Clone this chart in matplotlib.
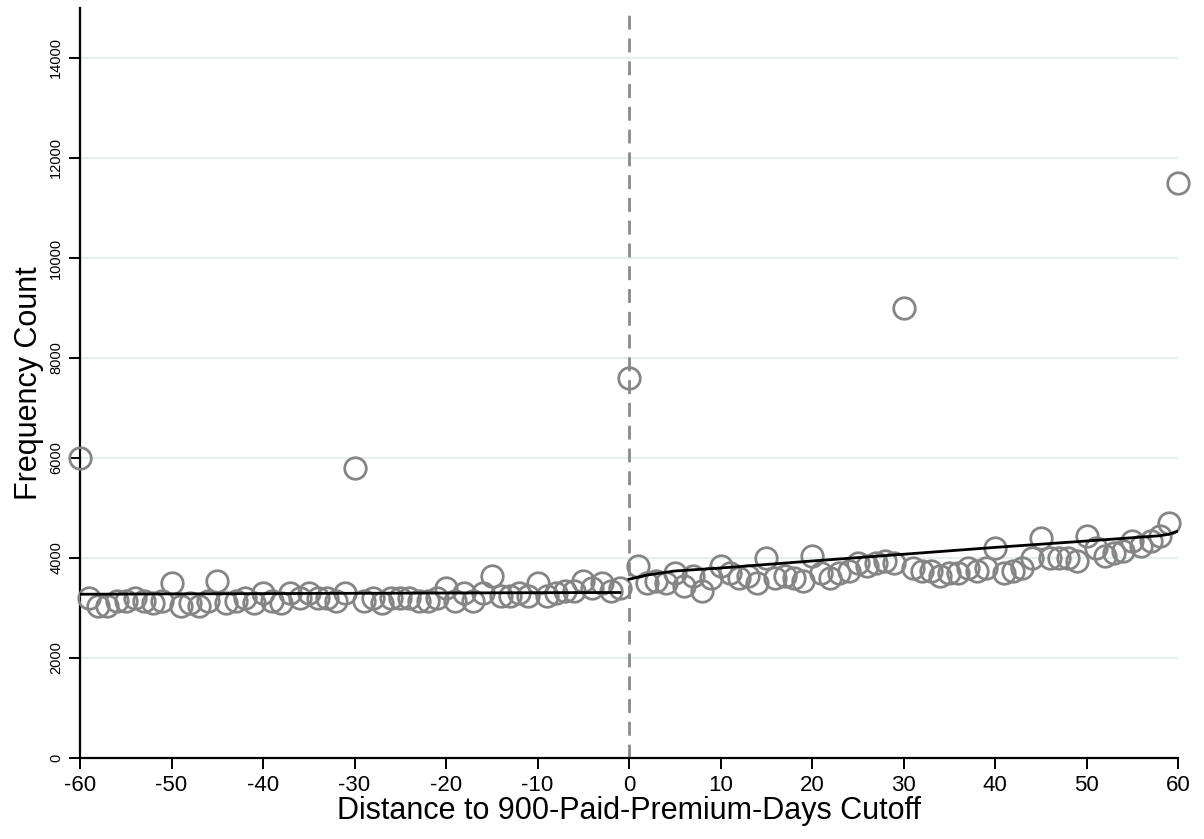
import numpy as np
import matplotlib
matplotlib.use("Agg")
import matplotlib.pyplot as plt

# ---- data ----
distance = list(range(-60, 61))
frequency = [
    6000, 3200, 3050, 3050, 3150, 3150, 3200, 3150, 3100, 3150,   # -60..-51
    3500, 3050, 3100, 3050, 3150, 3550, 3100, 3150, 3200, 3100,   # -50..-41
    3300, 3150, 3100, 3300, 3200, 3300, 3200, 3200, 3150, 3300,   # -40..-31
    5800, 3150, 3200, 3100, 3200, 3200, 3200, 3150, 3150, 3200,   # -30..-21
    3400, 3150, 3300, 3150, 3300, 3650, 3250, 3250, 3300, 3250,   # -20..-11
    3500, 3250, 3300, 3350, 3350, 3550, 3400, 3500, 3350, 3400,   # -10..-1
    7600, 3850, 3500, 3550, 3500, 3700, 3450, 3650, 3350, 3600,   # 0..9
    3850, 3700, 3600, 3650, 3500, 4000, 3600, 3650, 3600, 3550,   # 10..19
    4050, 3700, 3600, 3700, 3750, 3900, 3850, 3900, 3950, 3900,   # 20..29
    9000, 3800, 3750, 3750, 3650, 3700, 3700, 3800, 3750, 3800,   # 30..39
    4200, 3700, 3750, 3800, 4000, 4400, 4000, 4000, 4000, 3950,   # 40..49
    4450, 4200, 4050, 4100, 4150, 4350, 4250, 4350, 4450, 4700,   # 50..59
    11500,                                                        # 60
]

# fitted lines
fit_left_x = [-60, -50, -40, -30, -20, -10, -1]
fit_left_y = [3275, 3282, 3288, 3294, 3300, 3306, 3310]
fit_right_x = [0, 2, 5, 10, 20, 30, 40, 50, 55, 58, 59, 60]
fit_right_y = [3575, 3660, 3740, 3800, 3940, 4075, 4212, 4340, 4405, 4445, 4475, 4540]

xticks = list(range(-60, 61, 10))
yticks = list(range(0, 14001, 2000))

plt.rcParams['font.family'] = ['Liberation Sans', 'DejaVu Sans']

fig = plt.figure(figsize=(12.04, 8.39), dpi=100)
ax = fig.add_axes([80/1204, 1-758/839, (1178-80)/1204, (758-8)/839])

for t in yticks[1:]:
    ax.axhline(t, color='#e6eef0', lw=1.6, zorder=0)

ax.axvline(0, color='#8a8a8a', lw=2.0, ls=(0, (5, 3.2)), zorder=1)

ax.plot(distance, frequency, ls='none', marker='o', ms=15.5, mfc='none',
        mec='#858585', mew=2.0, clip_on=False, zorder=3)

ax.plot(fit_left_x, fit_left_y, color='black', lw=2.0, zorder=4)
ax.plot(fit_right_x, fit_right_y, color='black', lw=2.0, zorder=4)

ax.set_xlim(-60, 60)
ax.set_ylim(0, 15000)
ax.set_xticks(xticks)
ax.set_yticks(yticks)
ax.set_xticklabels([str(v) for v in xticks], fontsize=16)
ax.set_yticklabels([str(v) for v in yticks], fontsize=10.5, rotation=90, va='center')

ax.spines['top'].set_visible(False)
ax.spines['right'].set_visible(False)
ax.spines['left'].set_linewidth(1.6)
ax.spines['bottom'].set_linewidth(1.6)
ax.tick_params(axis='both', direction='out', length=8, width=1.4, color='black')
ax.tick_params(axis='x', pad=4)
ax.tick_params(axis='y', pad=4)

ax.set_xlabel('Distance to 900-Paid-Premium-Days Cutoff', fontsize=22, labelpad=0)
ax.set_ylabel('Frequency Count', fontsize=22, labelpad=4)

fig.savefig('out.png', dpi=100)
